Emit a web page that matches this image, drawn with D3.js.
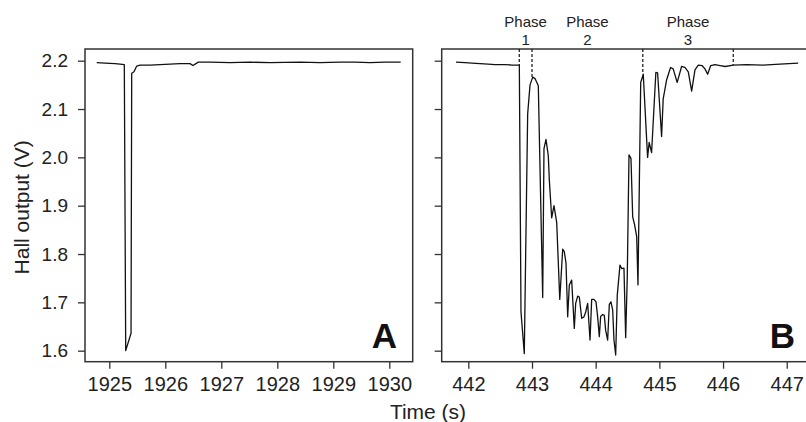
<!DOCTYPE html>
<html>
<head>
<meta charset="utf-8">
<script src="https://cdn.jsdelivr.net/npm/d3@7"></script>
<style>
  body { margin: 0; background: #fff; }
  svg { display: block; font-family: "Liberation Sans", Arial, sans-serif; }
  .axis path.domain { display: none; }
  .axis line { stroke: #333; stroke-width: 1.3; }
  .axis text { fill: #222; }
</style>
</head>
<body>
<svg id="chart" width="806" height="422"></svg>
<script>
// panel A : whole run, one pass of the magnet
var timeA = [1924.775, 1924.923, 1925.102, 1925.191, 1925.268, 1925.293, 1925.388, 1925.400,
  1925.441, 1925.489, 1925.548, 1925.727, 1925.905, 1926.084, 1926.263, 1926.441, 1926.495,
  1926.589, 1926.798, 1927.155, 1927.512, 1927.870, 1928.405, 1928.763, 1929.120, 1929.388,
  1929.655, 1929.923, 1930.204];
var voltA = [2.196, 2.195, 2.194, 2.193, 2.192, 1.600, 1.636, 2.174,
  2.177, 2.189, 2.191, 2.191, 2.192, 2.193, 2.194, 2.194, 2.190,
  2.197, 2.197, 2.196, 2.197, 2.196, 2.197, 2.196, 2.197, 2.197,
  2.196, 2.197, 2.197];

// panel B : the three phases
var timeB = [441.807, 441.948, 442.058, 442.184, 442.309, 442.419, 442.576, 442.686, 442.801,
  442.827, 442.879, 442.906, 442.932, 442.969, 443.011, 443.047, 443.099, 443.168, 443.188,
  443.220, 443.256, 443.272, 443.309, 443.345, 443.388, 443.436, 443.482, 443.507, 443.534,
  443.560, 443.586, 443.623, 443.664, 443.686, 443.717, 443.743, 443.780, 443.816, 443.843,
  443.874, 443.911, 443.937, 443.973, 444.005, 444.031, 444.057, 444.078, 444.110, 444.135,
  444.157, 444.188, 444.214, 444.240, 444.267, 444.287, 444.314, 444.339, 444.381, 444.408,
  444.444, 444.471, 444.496, 444.523, 444.554, 444.581, 444.612, 444.644, 444.664, 444.707,
  444.747, 444.815, 444.840, 444.878, 444.945, 444.972, 445.035, 445.060, 445.113, 445.176,
  445.217, 445.280, 445.349, 445.401, 445.454, 445.507, 445.559, 445.611, 445.669, 445.716,
  445.758, 445.806, 445.873, 445.954, 446.033, 446.160, 446.370, 446.626, 446.893, 447.180];
var voltB = [2.197, 2.196, 2.195, 2.194, 2.193, 2.192, 2.192, 2.191, 2.191,
  1.680, 1.594, 1.850, 2.090, 2.150, 2.166, 2.163, 2.148, 1.710, 2.018,
  2.037, 2.003, 1.953, 1.875, 1.900, 1.865, 1.706, 1.810, 1.805, 1.781,
  1.670, 1.736, 1.746, 1.646, 1.698, 1.713, 1.711, 1.667, 1.670, 1.680,
  1.698, 1.622, 1.706, 1.706, 1.701, 1.670, 1.629, 1.671, 1.675, 1.673,
  1.642, 1.622, 1.696, 1.701, 1.684, 1.622, 1.591, 1.715, 1.777, 1.770,
  1.771, 1.627, 1.753, 2.005, 1.998, 1.877, 1.860, 1.836, 1.736, 2.155,
  2.172, 2.000, 2.031, 2.010, 2.176, 2.175, 2.043, 2.121, 2.160, 2.186,
  2.183, 2.155, 2.188, 2.186, 2.177, 2.137, 2.181, 2.191, 2.190, 2.183,
  2.172, 2.190, 2.192, 2.190, 2.188, 2.191, 2.192, 2.191, 2.193, 2.195];

// phase boundaries (time, value where the dashed line meets the trace)
var phaseTimes = [442.80, 443.00, 444.74, 446.16];
var phaseVolts = [2.191, 2.166, 2.172, 2.191];
var phaseNames = ["1", "2", "3"];

var yTicks = [1.6, 1.7, 1.8, 1.9, 2.0, 2.1, 2.2];
var xTicksA = [1925, 1926, 1927, 1928, 1929, 1930];
var xTicksB = [442, 443, 444, 445, 446, 447];

var svg = d3.select("#chart");
var top_ = 49, bottom = 361.7;

var y = d3.scaleLinear().domain([1.5772, 2.2242]).range([bottom, top_]);
var xA = d3.scaleLinear().domain([1924.566, 1930.418]).range([85, 412.7]);
var xB = d3.scaleLinear().domain([441.582, 447.381]).range([441.7, 811]);

var line = function(x){
  return d3.line()
    .x(function(d){ return x(d[0]); })
    .y(function(d){ return y(d[1]); });
};

function panel(x, times, volts, ticks, showY, letter, letterX){
  var g = svg.append("g");

  g.append("g")
    .attr("class", "axis")
    .attr("transform", "translate(0," + bottom + ")")
    .call(d3.axisBottom(x).tickValues(ticks).tickSize(7).tickPadding(8).tickFormat(d3.format("d")))
    .selectAll("text").style("font-size", "20px");

  var ya = g.append("g")
    .attr("class", "axis")
    .attr("transform", "translate(" + x.range()[0] + ",0)")
    .call(d3.axisLeft(y).tickValues(yTicks).tickSize(7).tickPadding(10).tickFormat(d3.format(".1f")));
  ya.selectAll("text").style("font-size", "19px");
  if(!showY) ya.selectAll("text").remove();

  var pts = times.map(function(t, i){ return [t, volts[i]]; });
  g.append("path")
    .datum(pts)
    .attr("fill", "none")
    .attr("stroke", "#111")
    .attr("stroke-width", 1.3)
    .attr("stroke-linejoin", "round")
    .attr("d", line(x));

  g.append("rect")
    .attr("x", x.range()[0])
    .attr("y", top_)
    .attr("width", x.range()[1] - x.range()[0])
    .attr("height", bottom - top_)
    .attr("fill", "none")
    .attr("stroke", "#333")
    .attr("stroke-width", 1.5);

  g.append("text")
    .attr("x", letterX)
    .attr("y", 348.3)
    .attr("text-anchor", "end")
    .style("font-size", "35px")
    .style("font-weight", "bold")
    .attr("fill", "#111")
    .text(letter);
  return g;
}

panel(xA, timeA, voltA, xTicksA, true, "A", 397);
var gB = panel(xB, timeB, voltB, xTicksB, false, "B", 795);

// phase markers
gB.selectAll("line.phase")
  .data(phaseTimes)
  .enter().append("line")
  .attr("class", "phase")
  .attr("x1", function(d){ return xB(d); })
  .attr("x2", function(d){ return xB(d); })
  .attr("y1", top_)
  .attr("y2", function(d, i){ return y(phaseVolts[i]); })
  .attr("stroke", "#111")
  .attr("stroke-width", 1.2)
  .attr("stroke-dasharray", "3,2");

var lbl = svg.selectAll("g.plabel")
  .data(phaseNames)
  .enter().append("g")
  .attr("class", "plabel")
  .attr("transform", function(d, i){
    return "translate(" + xB((phaseTimes[i] + phaseTimes[i + 1]) / 2) + ",0)";
  });
lbl.append("text").attr("y", 27).attr("text-anchor", "middle")
  .style("font-size", "15px").attr("fill", "#222").text("Phase");
lbl.append("text").attr("y", 45).attr("text-anchor", "middle")
  .style("font-size", "15px").attr("fill", "#222").text(function(d){ return d; });

// axis titles
svg.append("text")
  .attr("transform", "translate(29," + ((top_ + bottom) / 2 + 2) + ") rotate(-90)")
  .attr("text-anchor", "middle")
  .style("font-size", "21px")
  .attr("fill", "#222")
  .text("Hall output (V)");

svg.append("text")
  .attr("x", 428)
  .attr("y", 419)
  .attr("text-anchor", "middle")
  .style("font-size", "21px")
  .attr("fill", "#222")
  .text("Time (s)");
</script>
</body>
</html>
